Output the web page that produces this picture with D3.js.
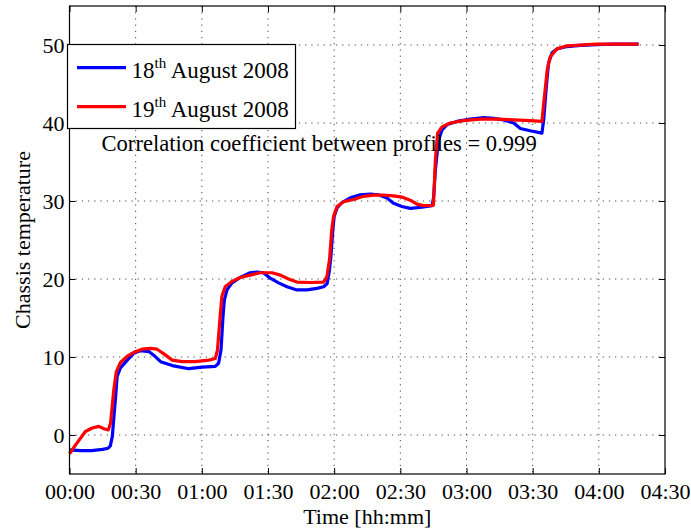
<!DOCTYPE html>
<html>
<head>
<meta charset="utf-8">
<script src="https://cdn.jsdelivr.net/npm/d3@7"></script>
<style>
  html, body { margin: 0; padding: 0; background: #fff; }
  svg { display: block; }
</style>
</head>
<body>
<svg id="chart" width="691" height="529"></svg>
<script>
// Chassis temperature profiles, time in minutes from start
const minutes18 = [0, 5, 10, 15, 17.5, 18.5, 19.4, 20.9, 21.6, 23.1, 26.2, 29.2, 32.2, 36, 38.3, 41.3, 46.6, 54.1, 60.2, 66.1,
  67.6, 68.7, 69.6, 70.2, 71.4, 73.7, 77.4, 81.9, 85, 88, 91, 94.8, 98.6, 103.1, 107.7, 112.2, 115.2,
  116.8, 117.8, 118.5, 119.4, 120, 121.3, 123.5, 127.3, 131.8, 136.4, 140.1, 143.9, 146.9, 150.7, 154.5, 159.8, 164.4,
  165.1, 165.9, 167.3, 168.9, 171.2, 175.7, 181.7, 187.8, 192.3, 196.8, 201.4, 204.4, 208.9, 214.2,
  215, 216.2, 217.2, 218.8, 221, 225.6, 231.6, 239.2, 246.7, 258];
const temp18 = [-1.9, -2.0, -2.0, -1.85, -1.7, -1.4, -0.2, 4.9, 7.5, 8.6, 9.6, 10.5, 10.8, 10.7, 10.2, 9.4, 8.9, 8.5, 8.7, 8.8,
  9.2, 10.9, 15.2, 17.3, 18.6, 19.5, 20.2, 20.8, 20.9, 20.8, 20.1, 19.5, 19.0, 18.6, 18.6, 18.8, 19.0,
  19.4, 21.0, 22.8, 26.3, 28.0, 29.1, 29.8, 30.4, 30.8, 30.9, 30.8, 30.4, 29.7, 29.3, 29.05, 29.2, 29.4,
  30.5, 34.0, 37.8, 39.1, 39.8, 40.2, 40.5, 40.7, 40.6, 40.4, 40.0, 39.3, 39.0, 38.7,
  40.4, 44.7, 47.7, 49.0, 49.5, 49.8, 49.95, 50.05, 50.1, 50.1];

const minutes19 = [0, 2.7, 7.2, 10.3, 13.3, 15.6, 17.6, 18.6, 20.1, 21.2, 23.1, 26.2, 29.2, 32.9, 36.7, 39.7, 42.8, 46.6, 51.1, 57.1, 63.2, 66.1,
  67.1, 68.3, 69.1, 70.6, 73.7, 77.4, 81.9, 86.5, 91.8, 95.6, 99.3, 103.1, 109.2, 115.2,
  116.7, 117.9, 118.9, 119.7, 121.3, 124.3, 128.8, 133.3, 137.9, 142.4, 146.9, 150.7, 154.5, 157.5, 160.5, 165,
  165.9, 166.9, 168.9, 172.6, 178.6, 186.2, 193.7, 201.4, 208.9, 214.2,
  215, 216.6, 218, 221, 225.6, 239.2, 258];
const temp19 = [-2.4, -1.3, 0.45, 0.9, 1.1, 0.8, 0.65, 1.5, 5.8, 8.1, 9.3, 10.1, 10.6, 11.0, 11.1, 11.0, 10.4, 9.6, 9.4, 9.4, 9.6, 9.8,
  10.9, 15.2, 17.8, 19.0, 19.7, 20.2, 20.5, 20.8, 20.8, 20.5, 20.0, 19.6, 19.55, 19.6,
  20.3, 22.5, 26.3, 28.0, 29.3, 29.9, 30.2, 30.6, 30.75, 30.75, 30.65, 30.5, 30.1, 29.6, 29.4, 29.45,
  35.3, 38.7, 39.5, 40.0, 40.3, 40.5, 40.5, 40.4, 40.3, 40.2,
  42.5, 46.8, 48.5, 49.5, 49.9, 50.1, 50.1];

const xTickMinutes = [0, 30, 60, 90, 120, 150, 180, 210, 240, 270];
const yTickValues = [0, 10, 20, 30, 40, 50];
const seriesNames = ["18", "19"];
const seriesColors = ["#0000ff", "#ff0000"];
const correlationText = "Correlation coefficient between profiles = 0.999";

(function draw() {
  const svg = d3.select("#chart");
  const pLeft = 69.5, pRight = 665, pTop = 6, pBottom = 474;
  const serif = "'Liberation Serif'";

  const x = d3.scaleLinear().domain([0, 270]).range([pLeft, pRight]);
  const y = d3.scaleLinear().domain([-5, 55]).range([pBottom, pTop]);

  const fmtTime = m => String(Math.floor(m / 60)).padStart(2, "0") + ":" + String(m % 60).padStart(2, "0");

  // dotted grid
  const grid = svg.append("g").attr("stroke", "#444").attr("stroke-width", 1).attr("stroke-dasharray", "1.2,5");
  grid.selectAll("line.gx").data(xTickMinutes.slice(1, -1)).join("line").attr("class", "gx")
    .attr("x1", d => x(d)).attr("x2", d => x(d)).attr("y1", pTop).attr("y2", pBottom);
  grid.selectAll("line.gy").data(yTickValues).join("line").attr("class", "gy")
    .attr("y1", d => y(d)).attr("y2", d => y(d)).attr("x1", pLeft).attr("x2", pRight);

  // series lines
  const line = d3.line().x(d => x(d[0])).y(d => y(d[1]));
  const series = [d3.zip(minutes18, temp18), d3.zip(minutes19, temp19)];
  svg.append("g").selectAll("path").data(series).join("path")
    .attr("d", line)
    .attr("fill", "none")
    .attr("stroke", (d, i) => seriesColors[i])
    .attr("stroke-width", 3.2)
    .attr("stroke-linejoin", "round");

  // axes with inward ticks, mirrored on top and right
  const tick = 6;
  const axisStyle = g => {
    g.select(".domain").remove();
    g.selectAll("line").attr("stroke", "#000");
    g.selectAll("text").attr("fill", "#000");
  };
  svg.append("g").attr("transform", `translate(0,${pBottom})`)
    .call(d3.axisBottom(x).tickValues(xTickMinutes).tickFormat(fmtTime).tickSizeInner(-tick).tickPadding(9))
    .call(axisStyle);
  svg.append("g").attr("transform", `translate(0,${pTop})`)
    .call(d3.axisTop(x).tickValues(xTickMinutes).tickFormat("").tickSizeInner(-tick))
    .call(axisStyle);
  svg.append("g").attr("transform", `translate(${pLeft},0)`)
    .call(d3.axisLeft(y).tickValues(yTickValues).tickFormat(d3.format("d")).tickSizeInner(-tick).tickPadding(5))
    .call(axisStyle);
  svg.append("g").attr("transform", `translate(${pRight},0)`)
    .call(d3.axisRight(y).tickValues(yTickValues).tickFormat("").tickSizeInner(-tick))
    .call(axisStyle);

  // frame
  svg.append("rect").attr("x", pLeft).attr("y", pTop).attr("width", pRight - pLeft).attr("height", pBottom - pTop)
    .attr("fill", "none").attr("stroke", "#000").attr("stroke-width", 1.2);

  // axis titles
  svg.append("text").attr("x", (pLeft + pRight) / 2).attr("y", 524).attr("text-anchor", "middle")
    .text("Time [hh:mm]");
  svg.append("text").attr("transform", `translate(30,${(pTop + pBottom) / 2}) rotate(-90)`)
    .attr("text-anchor", "middle").text("Chassis temperature");

  // legend
  const lg = svg.append("g");
  lg.append("rect").attr("x", 67.5).attr("y", 44.5).attr("width", 228).attr("height", 84)
    .attr("fill", "#fff").attr("stroke", "#000").attr("stroke-width", 1.2);
  seriesNames.forEach((n, i) => {
    const cy = 67.7 + i * 39;
    lg.append("line").attr("x1", 77).attr("x2", 126).attr("y1", cy).attr("y2", cy)
      .attr("stroke", seriesColors[i]).attr("stroke-width", 3.2);
    const t = lg.append("text").attr("class", "leg").attr("x", 131.5).attr("y", cy + 10.5);
    t.append("tspan").text(n);
    t.append("tspan").attr("class", "sup").attr("dy", -10).text("th");
    t.append("tspan").attr("dy", 10).text(" August 2008");
  });

  // correlation note
  svg.append("text").attr("class", "note").attr("x", 101.5).attr("y", 150.5).text(correlationText);

  // one serif face for every label
  svg.selectAll("g").attr("font-family", null).attr("font-size", null);
  svg.selectAll("text").style("font-family", serif).attr("font-size", 22);
  svg.selectAll("text.leg").attr("font-size", 23);
  svg.selectAll("text.note").attr("font-size", 22.6);
  svg.selectAll("tspan.sup").attr("font-size", 15);
})();
</script>
</body>
</html>
